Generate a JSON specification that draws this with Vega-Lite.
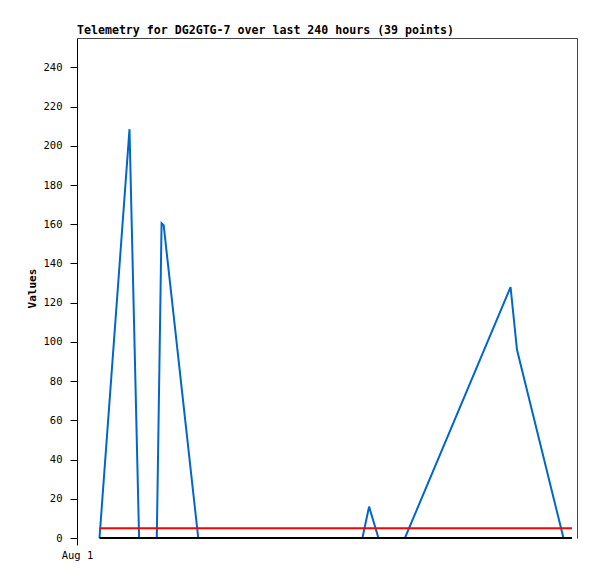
{
  "$schema": "https://vega.github.io/schema/vega-lite/v6.json",
  "width": 500,
  "height": 500,
  "autosize": "none",
  "padding": {"left": 77, "top": 38, "right": 20, "bottom": 41},
  "background": "white",
  "title": {
    "text": "Telemetry for DG2GTG-7 over last 240 hours (39 points)",
    "anchor": "start",
    "frame": "group",
    "font": "DejaVu Sans Mono",
    "fontSize": 11.6,
    "fontWeight": "bold",
    "color": "#000000",
    "offset": 1
  },
  "config": {
    "view": {"stroke": null},
    "axis": {
      "grid": false,
      "labelFont": "DejaVu Sans Mono",
      "labelFontSize": 10.5,
      "labelColor": "#000000",
      "titleFont": "DejaVu Sans Mono",
      "titleFontSize": 11,
      "titleFontWeight": "bold",
      "titleColor": "#000000",
      "domainColor": "#000000",
      "tickColor": "#000000",
      "tickSize": 7
    }
  },
  "data": {
    "values": [
      {"time": "2024-08-01T10:48:00", "value": 0, "series": "value"},
      {"time": "2024-08-02T01:12:00", "value": 208.5, "series": "value"},
      {"time": "2024-08-02T05:48:00", "value": 0, "series": "value"},
      {"time": "2024-08-02T14:18:00", "value": 0, "series": "value"},
      {"time": "2024-08-02T16:36:00", "value": 160.5, "series": "value"},
      {"time": "2024-08-02T17:36:00", "value": 159.5, "series": "value"},
      {"time": "2024-08-03T10:12:00", "value": 0, "series": "value"},
      {"time": "2024-08-06T17:00:00", "value": 0, "series": "value"},
      {"time": "2024-08-06T20:12:00", "value": 16, "series": "value"},
      {"time": "2024-08-07T00:42:00", "value": 0, "series": "value"},
      {"time": "2024-08-07T13:24:00", "value": 0, "series": "value"},
      {"time": "2024-08-09T16:06:00", "value": 128, "series": "value"},
      {"time": "2024-08-09T19:12:00", "value": 96, "series": "value"},
      {"time": "2024-08-10T17:30:00", "value": 0, "series": "value"},
      {"time": "2024-08-10T21:36:00", "value": 0, "series": "value"},
      {"time": "2024-08-01T10:48:00", "value": 5, "series": "limit"},
      {"time": "2024-08-10T21:36:00", "value": 5, "series": "limit"},
      {"time": "2024-08-01T10:48:00", "value": 0, "series": "zero"},
      {"time": "2024-08-10T21:36:00", "value": 0, "series": "zero"}
    ]
  },
  "resolve": {"axis": {"x": "independent", "y": "independent"}},
  "layer": [
    {
      "transform": [{"filter": "datum.series === 'value'"}],
      "mark": {"type": "line", "strokeWidth": 2, "color": "#0066cc"},
      "encoding": {
        "x": {
          "field": "time", "type": "temporal",
          "scale": {"domain": [{"year": 2024, "month": 8, "date": 1}, {"year": 2024, "month": 8, "date": 11}]},
          "axis": {"orient": "bottom", "values": [{"year": 2024, "month": 8, "date": 1}], "format": "%b %-d", "domain": false, "title": null, "labelPadding": 5, "labelAlign": "center"}
        },
        "y": {
          "field": "value", "type": "quantitative",
          "scale": {"domain": [0, 255], "nice": false, "zero": true},
          "axis": {"orient": "left", "values": [0, 20, 40, 60, 80, 100, 120, 140, 160, 180, 200, 220, 240], "title": "Values", "labelPadding": 8, "titlePadding": 6}
        }
      }
    },
    {
      "transform": [{"filter": "datum.series === 'limit'"}],
      "mark": {"type": "line", "strokeWidth": 2, "color": "#ff0000"},
      "encoding": {
        "x": {"field": "time", "type": "temporal", "axis": null},
        "y": {"field": "value", "type": "quantitative", "axis": null}
      }
    },
    {
      "transform": [{"filter": "datum.series === 'zero'"}],
      "mark": {"type": "line", "strokeWidth": 2, "color": "#000000"},
      "encoding": {
        "x": {"field": "time", "type": "temporal", "axis": {"orient": "top", "labels": false, "ticks": false, "title": null, "domainColor": "#444444", "values": []}},
        "y": {"field": "value", "type": "quantitative", "axis": {"orient": "right", "labels": false, "ticks": false, "title": null, "domainColor": "#444444", "values": []}}
      }
    }
  ]
}
